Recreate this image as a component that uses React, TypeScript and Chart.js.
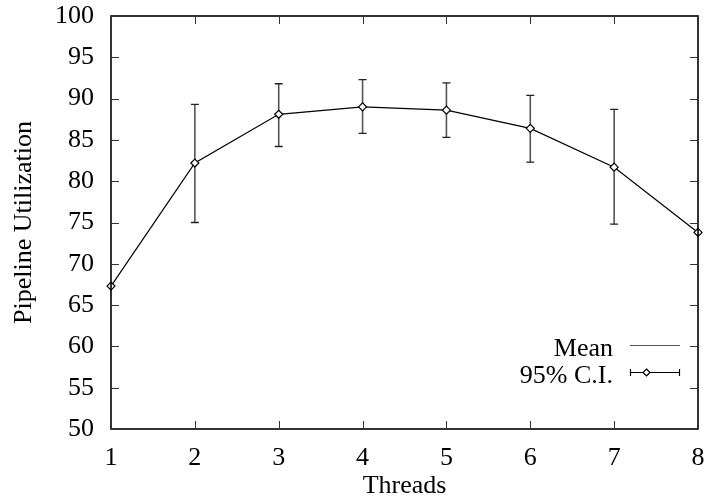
import React, { useEffect, useRef } from "react";
import { Chart, registerables } from "chart.js";

Chart.register(...registerables);

const threads = [1, 2, 3, 4, 5, 6, 7, 8];
const meanValues = [67.3, 82.2, 88.1, 89.0, 88.6, 86.4, 81.7, 73.8];
const ciLow = [67.3, 75.0, 84.2, 85.8, 85.3, 82.3, 74.8, 73.8];
const ciHigh = [67.3, 89.3, 91.8, 92.3, 91.9, 90.4, 88.7, 73.8];
const xTicks = [1, 2, 3, 4, 5, 6, 7, 8];
const yTicks = [50, 55, 60, 65, 70, 75, 80, 85, 90, 95, 100];
const xTitle = "Threads";
const yTitle = "Pipeline Utilization";
const legendLabels = ["Mean", "95% C.I."];

const FONT = "'Liberation Serif', 'DejaVu Serif', serif";
const FS = 26;

const overlay = {
  id: "gnuplotOverlay",
  beforeDatasetsDraw(chart: any) {
    const ctx = chart.ctx;
    const xs = chart.scales.x;
    const ys = chart.scales.y;
    ctx.save();
    for (let i = 0; i < threads.length; i++) {
      if (ciHigh[i] - ciLow[i] < 0.01) continue;
      const px = xs.getPixelForValue(threads[i]);
      const t = ys.getPixelForValue(ciHigh[i]);
      const b = ys.getPixelForValue(ciLow[i]);
      ctx.strokeStyle = "#555";
      ctx.lineWidth = 1.6;
      ctx.beginPath();
      ctx.moveTo(px, t);
      ctx.lineTo(px, b);
      ctx.stroke();
      ctx.strokeStyle = "#222";
      ctx.lineWidth = 1.3;
      ctx.beginPath();
      ctx.moveTo(px - 4, t);
      ctx.lineTo(px + 4, t);
      ctx.moveTo(px - 4, b);
      ctx.lineTo(px + 4, b);
      ctx.stroke();
    }
    ctx.restore();
  },
  afterDraw(chart: any) {
    const ctx = chart.ctx;
    const a = chart.chartArea;
    const xs = chart.scales.x;
    const ys = chart.scales.y;
    ctx.save();
    // frame
    ctx.strokeStyle = "#000";
    ctx.lineWidth = 1.6;
    ctx.strokeRect(a.left, a.top, a.right - a.left, a.bottom - a.top);
    // inward ticks
    ctx.lineWidth = 1;
    ctx.strokeStyle = "#333";
    ctx.beginPath();
    for (const v of yTicks) {
      const py = Math.round(ys.getPixelForValue(v)) + 0.5;
      ctx.moveTo(a.left, py);
      ctx.lineTo(a.left + 8, py);
      ctx.moveTo(a.right, py);
      ctx.lineTo(a.right - 8, py);
    }
    for (const v of xTicks) {
      const px = Math.round(xs.getPixelForValue(v)) + 0.5;
      ctx.moveTo(px, a.bottom);
      ctx.lineTo(px, a.bottom - 8);
      ctx.moveTo(px, a.top);
      ctx.lineTo(px, a.top + 8);
    }
    ctx.stroke();
    // titles
    ctx.fillStyle = "#000";
    ctx.font = `${FS}px ${FONT}`;
    ctx.textAlign = "center";
    ctx.textBaseline = "alphabetic";
    ctx.fillText(xTitle, (a.left + a.right) / 2, 493);
    ctx.save();
    ctx.translate(31, (a.top + a.bottom) / 2);
    ctx.rotate(-Math.PI / 2);
    ctx.fillText(yTitle, 0, 0);
    ctx.restore();
    // legend
    ctx.textAlign = "right";
    ctx.fillText(legendLabels[0], 613, 356);
    ctx.fillText(legendLabels[1], 613, 383);
    ctx.strokeStyle = "#555";
    ctx.lineWidth = 1.2;
    ctx.beginPath();
    ctx.moveTo(630, 345.5);
    ctx.lineTo(680, 345.5);
    ctx.stroke();
    ctx.strokeStyle = "#000";
    ctx.lineWidth = 1.2;
    ctx.beginPath();
    ctx.moveTo(630, 372.5);
    ctx.lineTo(680, 372.5);
    ctx.moveTo(630.5, 369);
    ctx.lineTo(630.5, 376);
    ctx.moveTo(679.5, 369);
    ctx.lineTo(679.5, 376);
    ctx.stroke();
    ctx.fillStyle = "#fff";
    ctx.beginPath();
    ctx.moveTo(646.5, 369);
    ctx.lineTo(650, 372.5);
    ctx.lineTo(646.5, 376);
    ctx.lineTo(643, 372.5);
    ctx.closePath();
    ctx.fill();
    ctx.stroke();
    ctx.restore();
  },
};

export default function App() {
  const ref = useRef<HTMLCanvasElement | null>(null);
  useEffect(() => {
    if (!ref.current) return;
    const chart = new Chart(ref.current, {
      type: "line",
      data: {
        datasets: [
          {
            label: legendLabels[0],
            data: threads.map((t, i) => ({ x: t, y: meanValues[i] })),
            borderColor: "#000",
            borderWidth: 1.2,
            pointStyle: "rectRot",
            pointRadius: 4,
            pointBorderWidth: 1.2,
            pointBackgroundColor: "#fff",
            pointBorderColor: "#000",
            tension: 0,
            clip: false as any,
          },
        ],
      },
      options: {
        animation: false,
        responsive: true,
        maintainAspectRatio: false,
        layout: { padding: { left: 0, right: 9, top: 16, bottom: 0 } },
        plugins: { legend: { display: false }, tooltip: { enabled: false } },
        scales: {
          x: {
            type: "linear",
            min: 1,
            max: 8,
            afterFit: (s: any) => {
              s.height = 75;
              s.paddingLeft = 0;
              s.paddingRight = 0;
            },
            afterBuildTicks: (s: any) => {
              s.ticks = xTicks.map((v) => ({ value: v }));
            },
            grid: { display: false, drawTicks: false },
            border: { display: false },
            ticks: {
              padding: 14,
              color: "#000",
              font: { family: FONT, size: FS },
              maxRotation: 0,
            },
          },
          y: {
            type: "linear",
            min: 50,
            max: 100,
            afterFit: (s: any) => {
              s.width = 111;
              s.paddingTop = 0;
              s.paddingBottom = 0;
            },
            afterBuildTicks: (s: any) => {
              s.ticks = yTicks.map((v) => ({ value: v }));
            },
            grid: { display: false, drawTicks: false },
            border: { display: false },
            ticks: {
              padding: 17,
              color: "#000",
              font: { family: FONT, size: FS },
            },
          },
        },
      },
      plugins: [overlay],
    });
    return () => chart.destroy();
  }, []);
  return (
    <div style={{ position: "fixed", left: 0, top: 0, width: 707, height: 504, background: "#fff" }}>
      <canvas ref={ref} />
    </div>
  );
}
